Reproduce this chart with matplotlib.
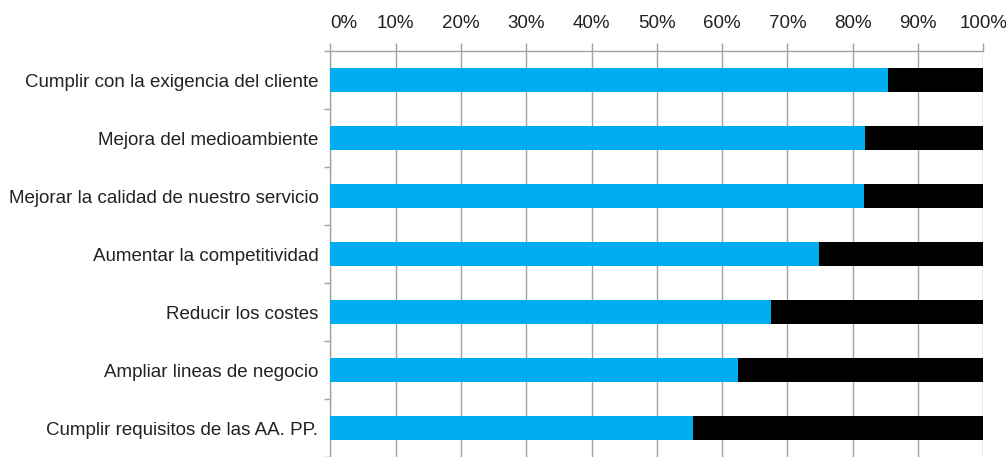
import matplotlib
matplotlib.use("Agg")
import matplotlib.pyplot as plt
import numpy as np

plt.rcParams['font.family'] = ['Liberation Sans', 'DejaVu Sans']

categories = [
    "Cumplir con la exigencia del cliente",
    "Mejora del medioambiente",
    "Mejorar la calidad de nuestro servicio",
    "Aumentar la competitividad",
    "Reducir los costes",
    "Ampliar lineas de negocio",
    "Cumplir requisitos de las AA. PP.",
]
si_pct = [85.4, 81.9, 81.7, 74.8, 67.5, 62.4, 55.5]
no_pct = [100 - v for v in si_pct]
xticks = list(range(0, 101, 10))

blue = "#00aeef"
grid_col = "#a3a3a3"
text_col = "#222222"

fig = plt.figure(figsize=(10.06, 4.57), dpi=100)
ax = fig.add_axes([330.3 / 1006, 0.0, (983.3 - 330.3) / 1006, 1 - 51 / 457])

y = np.arange(len(categories))
ax.barh(y, si_pct, height=0.41, color=blue, zorder=3)
ax.barh(y, no_pct, left=si_pct, height=0.41, color="black", zorder=3)

ax.set_xlim(0, 100)
ax.set_ylim(6.43, -0.5)

ax.xaxis.tick_top()
ax.set_xticks(xticks)
ax.set_xticklabels([f"{t}%" for t in xticks], fontsize=13.5, color=text_col)
ax.tick_params(axis="x", direction="out", length=6, width=1, color=grid_col, pad=8)
ax.grid(axis="x", color=grid_col, linewidth=1, zorder=0)
# first label sits to the right of its gridline in the original
ax.get_xticklabels()[0].set_horizontalalignment("left")

ax.set_yticks(y)
ax.set_yticklabels(categories, fontsize=13.5, color=text_col)
ax.set_yticks(np.arange(-0.5, len(categories), 1.0), minor=True)
ax.tick_params(axis="y", which="major", length=0, pad=8.5)
ax.tick_params(axis="y", which="minor", length=4, width=1, color=grid_col)

for side in ["right", "bottom"]:
    ax.spines[side].set_visible(False)
for side in ["top", "left"]:
    ax.spines[side].set_color(grid_col)
    ax.spines[side].set_linewidth(1)

fig.savefig("out.png", dpi=100)
